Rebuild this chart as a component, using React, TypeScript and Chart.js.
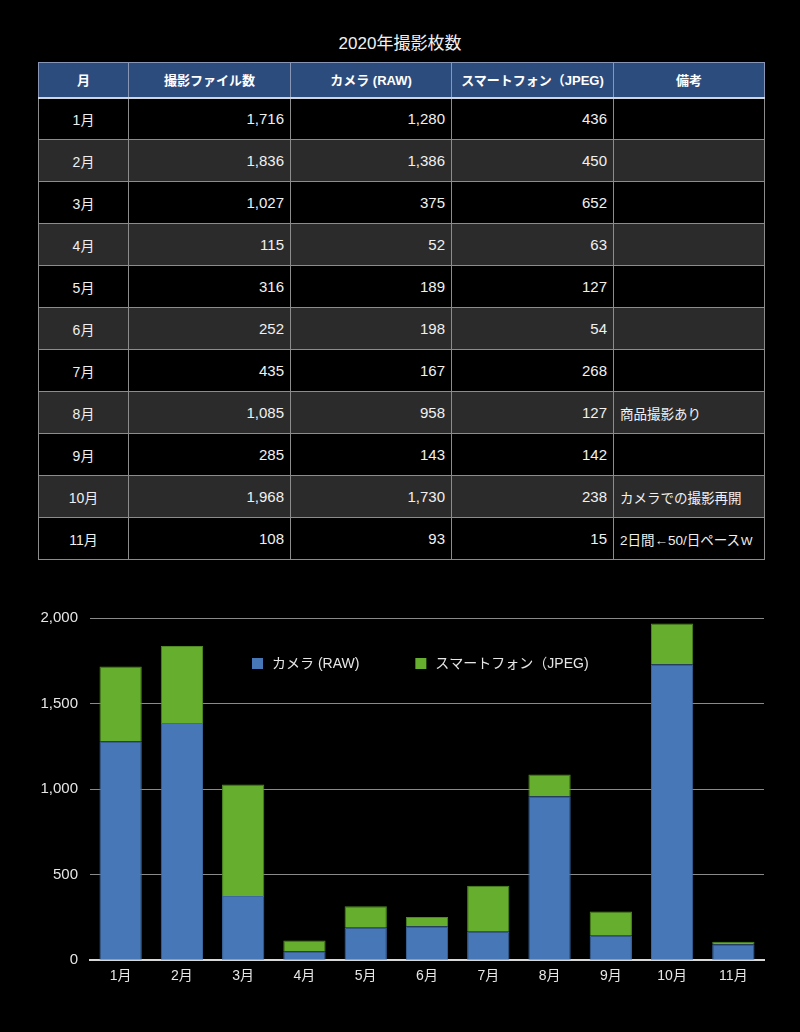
import React, { useEffect, useRef } from "react";
import { Chart, registerables } from "chart.js";

Chart.register(...registerables);

const title = "2020年撮影枚数";
const headers = ["月", "撮影ファイル数", "カメラ (RAW)", "スマートフォン（JPEG)", "備考"];
const months = ["1月", "2月", "3月", "4月", "5月", "6月", "7月", "8月", "9月", "10月", "11月"];
const totals = [1716, 1836, 1027, 115, 316, 252, 435, 1085, 285, 1968, 108];
const camera = [1280, 1386, 375, 52, 189, 198, 167, 958, 143, 1730, 93];
const phone = [436, 450, 652, 63, 127, 54, 268, 127, 142, 238, 15];
const notes = ["", "", "", "", "", "", "", "商品撮影あり", "", "カメラでの撮影再開", "2日間←50/日ペースｗ"];
const seriesLabels = ["カメラ (RAW)", "スマートフォン（JPEG)"];
const yTicks = [0, 500, 1000, 1500, 2000];

const FONT = "'Liberation Sans', 'Noto Sans CJK JP', sans-serif";
const BLUE = "#4777b7";
const GREEN = "#66ae2d";

const fmt = (n: number) => n.toLocaleString("en-US");

const legendPlugin = {
  id: "innerLegend",
  afterDraw(chart: any) {
    const { ctx, chartArea } = chart;
    ctx.save();
    ctx.font = `14px ${FONT}`;
    ctx.textBaseline = "middle";
    let x = chartArea.left + 162;
    const y = chartArea.top + 46;
    chart.data.datasets.forEach((ds: any) => {
      ctx.fillStyle = ds.backgroundColor;
      ctx.fillRect(x, y - 6, 11, 11);
      ctx.fillStyle = "#e6e6e6";
      ctx.fillText(ds.label, x + 20, y);
      x += 20 + ctx.measureText(ds.label).width + 56;
    });
    ctx.restore();
  },
};

function ChartView() {
  const ref = useRef<HTMLCanvasElement | null>(null);
  useEffect(() => {
    if (!ref.current) return;
    const chart = new Chart(ref.current, {
      type: "bar",
      data: {
        labels: months,
        datasets: [
          {
            label: seriesLabels[0],
            data: camera,
            backgroundColor: BLUE,
            borderColor: "#3d6aa3",
            borderWidth: 1,
            categoryPercentage: 1,
            barPercentage: 0.69,
          },
          {
            label: seriesLabels[1],
            data: phone,
            backgroundColor: GREEN,
            borderColor: "#4f8a22",
            borderWidth: 1,
            categoryPercentage: 1,
            barPercentage: 0.69,
          },
        ],
      },
      options: {
        animation: false,
        responsive: false,
        maintainAspectRatio: false,
        layout: { padding: { left: 0, right: 36, top: 15, bottom: 12 } },
        plugins: { legend: { display: false }, tooltip: { enabled: false } },
        scales: {
          x: {
            stacked: true,
            grid: { display: false },
            border: { display: true, color: "#d8d8d8", width: 2 },
            ticks: { color: "#e6e6e6", font: { size: 14, family: FONT }, padding: 0 },
          },
          y: {
            stacked: true,
            min: yTicks[0],
            max: yTicks[yTicks.length - 1],
            afterBuildTicks: (scale: any) => {
              scale.ticks = yTicks.map((v) => ({ value: v }));
            },
            afterFit: (scale: any) => {
              scale.width = 90;
            },
            grid: { color: "#8a8a8a", drawTicks: false, lineWidth: 1 },
            border: { display: false },
            ticks: {
              color: "#e6e6e6",
              font: { size: 15, family: FONT },
              padding: 12,
              callback: (v: any) => fmt(Number(v)),
            },
          },
        },
      },
      plugins: [legendPlugin],
    });
    return () => chart.destroy();
  }, []);
  return <canvas ref={ref} width={800} height={400} style={{ display: "block" }} />;
}

export default function App() {
  useEffect(() => {
    document.body.style.margin = "0";
    document.body.style.background = "#000";
  }, []);
  const border = "1px solid #8c8c8c";
  const cell: React.CSSProperties = {
    border,
    height: 42,
    padding: "0 6px",
    fontSize: 15,
    color: "#f0f0f0",
    boxSizing: "border-box",
  };
  const colW = [90, 162, 161, 162, 151];
  return (
    <div style={{ position: "relative", width: 800, height: 1032, background: "#000", fontFamily: FONT, overflow: "hidden" }}>
      <div style={{ position: "absolute", top: 33, left: 0, width: 800, textAlign: "center", color: "#f0f0f0", fontSize: 17, lineHeight: "22px" }}>
        {title}
      </div>
      <table
        style={{
          position: "absolute",
          top: 62,
          left: 38,
          width: 726,
          borderCollapse: "collapse",
          tableLayout: "fixed",
        }}
      >
        <colgroup>
          {colW.map((w, i) => (
            <col key={i} style={{ width: w }} />
          ))}
        </colgroup>
        <thead>
          <tr>
            {headers.map((h, i) => (
              <th
                key={i}
                style={{
                  border: "1px solid #8797b5",
                  borderBottom: "2px solid #d0d4dc",
                  background: "#2d4c7e",
                  color: "#ffffff",
                  fontSize: 13,
                  fontWeight: "bold",
                  height: 35,
                  padding: 0,
                  textAlign: "center",
                  boxSizing: "border-box",
                }}
              >
                {h}
              </th>
            ))}
          </tr>
        </thead>
        <tbody>
          {months.map((m, i) => (
            <tr key={m} style={{ background: i % 2 === 1 ? "#2b2b2b" : "#000" }}>
              <td style={{ ...cell, textAlign: "center", fontSize: 14 }}>{m}</td>
              <td style={{ ...cell, textAlign: "right" }}>{fmt(totals[i])}</td>
              <td style={{ ...cell, textAlign: "right" }}>{fmt(camera[i])}</td>
              <td style={{ ...cell, textAlign: "right" }}>{fmt(phone[i])}</td>
              <td style={{ ...cell, textAlign: "left", fontSize: 13.5 }}>{notes[i]}</td>
            </tr>
          ))}
        </tbody>
      </table>
      <div style={{ position: "absolute", top: 597, left: 0, width: 800, height: 400 }}>
        <ChartView />
      </div>
    </div>
  );
}
